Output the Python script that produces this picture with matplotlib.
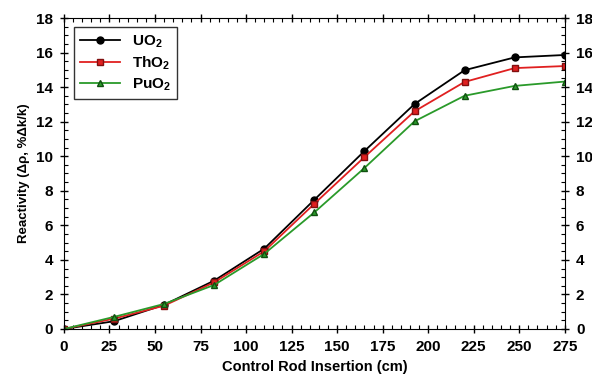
import numpy as np
import matplotlib.pyplot as plt
from matplotlib.ticker import MultipleLocator

plt.rcParams['font.family'] = ['Liberation Sans', 'DejaVu Sans']
plt.rcParams['font.weight'] = 'bold'
plt.rcParams['mathtext.fontset'] = 'custom'
plt.rcParams['mathtext.rm'] = 'Liberation Sans:bold'
plt.rcParams['mathtext.bf'] = 'Liberation Sans:bold'
plt.rcParams['mathtext.it'] = 'Liberation Sans:bold'

# control rod insertion (cm)
insertion = [0, 27.5, 55, 82.5, 110, 137.5, 165, 192.5, 220, 247.5, 275]
# reactivity (%dk/k)
uo2  = [0, 0.45, 1.4, 2.8, 4.65, 7.48, 10.3, 13.02, 14.98, 15.72, 15.86]
tho2 = [0, 0.6, 1.35, 2.7, 4.5, 7.25, 9.95, 12.6, 14.3, 15.1, 15.22]
puo2 = [0, 0.7, 1.45, 2.55, 4.35, 6.75, 9.32, 12.02, 13.5, 14.07, 14.32]

fig = plt.figure(figsize=(5.92, 3.83), dpi=100)
ax = fig.add_axes([0.108, 0.141, 0.846, 0.812])

ax.plot(insertion, uo2, '-o', color='black', ms=5, lw=1.3,
        mfc='black', mec='black', label=r'UO$_2$')
ax.plot(insertion, tho2, '-s', color='#e02020', ms=5, lw=1.3,
        mfc='#e02020', mec='#801010', label=r'ThO$_2$')
ax.plot(insertion, puo2, '-^', color='#2a9a2a', ms=5, lw=1.3,
        mfc='#2a9a2a', mec='#105010', label=r'PuO$_2$')

ax.set_xlim(0, 275)
ax.set_ylim(0, 18)
ax.xaxis.set_major_locator(MultipleLocator(25))
ax.xaxis.set_minor_locator(MultipleLocator(5))
ax.yaxis.set_major_locator(MultipleLocator(2))
ax.yaxis.set_minor_locator(MultipleLocator(0.5))

ax.tick_params(which='major', direction='inout', length=6, width=1,
               labelsize=11, top=True, right=True, labelright=True, pad=5)
ax.tick_params(which='minor', direction='in', length=3, width=0.8,
               top=True, right=True)
for lab in ax.get_xticklabels() + ax.get_yticklabels():
    lab.set_fontweight('bold')

ax.set_xlabel('Control Rod Insertion (cm)', fontsize=10.5, fontweight='bold', labelpad=4)
ax.set_ylabel('Reactivity (\u0394\u03c1, %\u0394k/k)', fontsize=9.5, fontweight='bold', labelpad=4)

leg = ax.legend(loc='upper left', fontsize=11, frameon=True, fancybox=False,
                edgecolor='black', handlelength=2.6, borderpad=0.4,
                labelspacing=0.3, bbox_to_anchor=(0.005, 0.995))
leg.get_frame().set_linewidth(1.0)

fig.savefig('out.png', dpi=100)
